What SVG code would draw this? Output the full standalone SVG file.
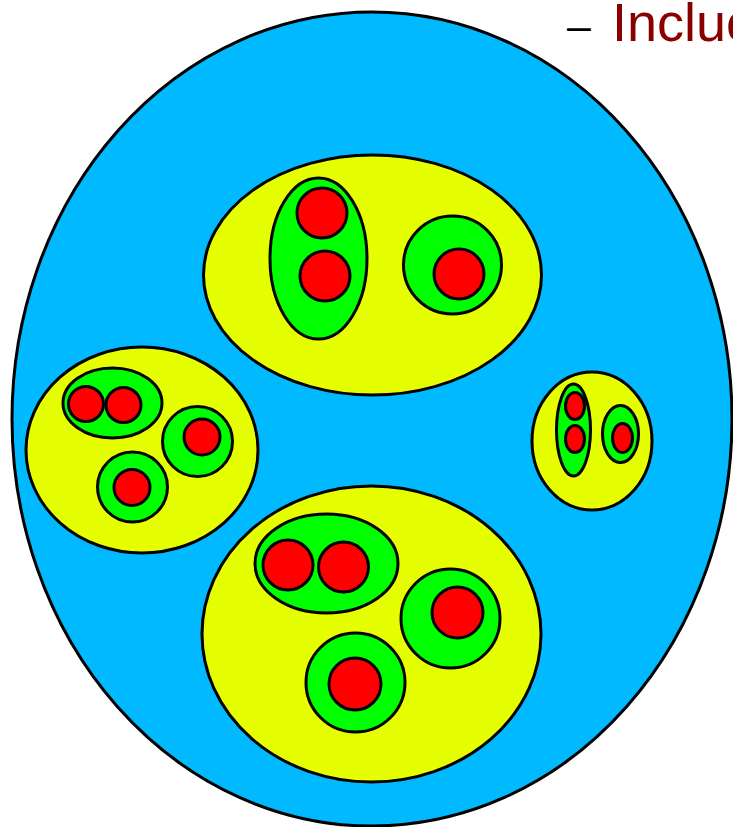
<svg xmlns="http://www.w3.org/2000/svg" width="733" height="827" viewBox="0 0 733 827">
<style>
.s{stroke:#000;stroke-width:3}
.b{fill:#00B9FF}
.y{fill:#E6FF00}
.g{fill:#00FF00}
.r{fill:#FF0000}
.t{font-family:"Liberation Sans",Arial,sans-serif}
</style>
<rect width="733" height="827" fill="#fff"/>
<g id="universe">
<ellipse class="s b" cx="372" cy="419" rx="360" ry="407"/>
</g>
<g id="cluster-top">
<ellipse class="s y" cx="372.5" cy="275" rx="169" ry="120"/>
<ellipse class="s g" cx="318.5" cy="258.5" rx="48.5" ry="80.5"/>
<circle class="s r" cx="322" cy="213" r="25"/>
<circle class="s r" cx="325" cy="276" r="25"/>
<circle class="s g" cx="452.5" cy="265" r="49"/>
<circle class="s r" cx="459" cy="274" r="25"/>
</g>
<g id="cluster-left">
<ellipse class="s y" cx="142" cy="450" rx="116" ry="103"/>
<ellipse class="s g" cx="112.5" cy="403" rx="49.5" ry="35"/>
<circle class="s r" cx="86" cy="404" r="17.5"/>
<circle class="s r" cx="123.5" cy="405" r="17.5"/>
<circle class="s g" cx="197.5" cy="441.5" r="35"/>
<circle class="s r" cx="202" cy="437" r="18"/>
<circle class="s g" cx="132.5" cy="487" r="35"/>
<circle class="s r" cx="132" cy="487.5" r="18"/>
</g>
<g id="cluster-right">
<ellipse class="s y" cx="592" cy="441" rx="60" ry="69"/>
<ellipse class="s g" cx="573.5" cy="430" rx="17" ry="46"/>
<ellipse class="s r" cx="575" cy="406" rx="9.5" ry="13.5"/>
<ellipse class="s r" cx="575" cy="439" rx="9.5" ry="13.5"/>
<ellipse class="s g" cx="620.5" cy="434" rx="18" ry="28.5"/>
<ellipse class="s r" cx="622.5" cy="438" rx="10" ry="14.5"/>
</g>
<g id="cluster-bottom">
<ellipse class="s y" cx="371.5" cy="634" rx="169.5" ry="148"/>
<ellipse class="s g" cx="326.5" cy="563.5" rx="71.5" ry="49.5"/>
<circle class="s r" cx="288" cy="565" r="25"/>
<circle class="s r" cx="343.5" cy="567" r="25"/>
<circle class="s g" cx="450.5" cy="618.5" r="49.5"/>
<circle class="s r" cx="457.5" cy="612.5" r="25.5"/>
<circle class="s g" cx="355.5" cy="682.5" r="49.5"/>
<circle class="s r" cx="355" cy="684" r="26"/>
</g>
<g id="label">
<text class="t" x="567" y="40" font-size="43" fill="#000">–</text>
<text class="t" x="612" y="41" font-size="54" fill="#880000">Incluc</text>
</g>
</svg>
